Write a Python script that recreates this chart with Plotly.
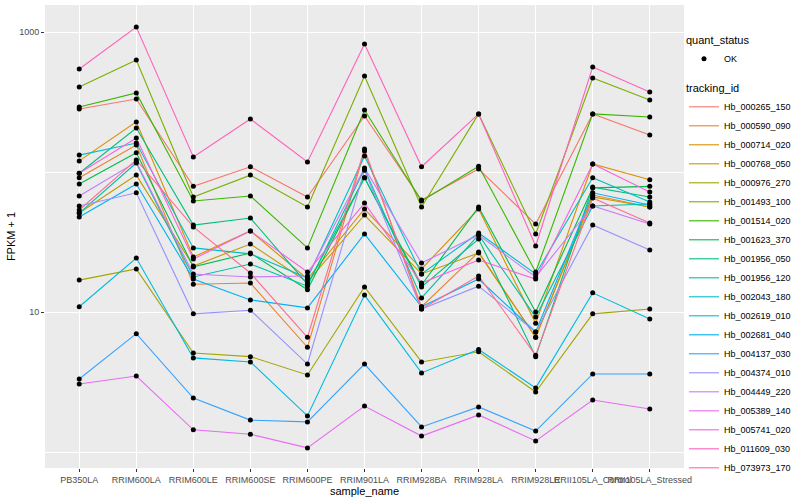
import plotly.graph_objects as go

samples = ["PB350LA", "RRIM600LA", "RRIM600LE", "RRIM600SE", "RRIM600PE", "RRIM901LA",
           "RRIM928BA", "RRIM928LA", "RRIM928LE", "RRII105LA_Control", "RRII105LA_Stressed"]

tracking_ids = ["Hb_000265_150", "Hb_000590_090", "Hb_000714_020", "Hb_000768_050", "Hb_000976_270",
                "Hb_001493_100", "Hb_001514_020", "Hb_001623_370", "Hb_001956_050", "Hb_001956_120",
                "Hb_002043_180", "Hb_002619_010", "Hb_002681_040", "Hb_004137_030", "Hb_004374_010",
                "Hb_004449_220", "Hb_005389_140", "Hb_005741_020", "Hb_011609_030", "Hb_073973_170"]

colors = ["#F8766D", "#EA8331", "#D89000", "#C09B00", "#A3A500", "#7CAE00", "#39B600", "#00BB4E",
          "#00BF7D", "#00C1A3", "#00BFC4", "#00BAE0", "#00B0F6", "#35A2FF", "#9590FF", "#C77CFF",
          "#E76BF3", "#FA62DB", "#FF62BC", "#FF6C91"]

# FPKM + 1 per tracking_id, in the order of `samples` (legend order of tracking_ids)
hb_000265_150 = [282, 332, 79, 109, 66.3, 251, 63.1, 105, 42.5, 260, 184]
hb_000590_090 = [91, 156, 15.8, 16.1, 5.6, 141, 10.9, 26.8, 6.6, 68.5, 56.2]
hb_000714_020 = [120, 228, 24.7, 37.9, 17.2, 54.4, 20.3, 54.4, 8.3, 114, 88]
hb_000768_050 = [50.9, 95, 21.3, 30.6, 16.4, 49.3, 18.7, 26.4, 6.6, 66.3, 56.2]
hb_000976_270 = [16.9, 20.3, 5.1, 4.8, 3.55, 15.1, 4.4, 5.2, 2.68, 9.7, 10.5]
hb_001493_100 = [405, 631, 66.3, 95, 56.2, 485, 56.2, 260, 36.1, 469, 327]
hb_001514_020 = [291, 367, 62.1, 67.4, 28.7, 277, 62.1, 110, 19.3, 260, 247]
hb_001623_370 = [82, 137, 21.0, 26.4, 14.4, 91, 15.6, 56.2, 10, 77, 79]
hb_001956_050 = [98, 206, 41.8, 46.9, 15.8, 91, 15.1, 33.2, 4.8, 78, 66.3]
hb_001956_120 = [50.9, 116, 17.8, 22.0, 15.3, 105, 12.6, 35.5, 9.2, 57.2, 59.1]
hb_002043_180 = [132, 161, 28.7, 26.0, 17.5, 130, 18.7, 36.7, 18.7, 91, 61.1]
hb_002619_010 = [10.9, 24.3, 4.7, 4.4, 1.81, 13.2, 3.67, 5.4, 2.87, 13.7, 8.9]
hb_002681_040 = [47.7, 82, 17.2, 12.2, 10.7, 36.1, 10.9, 17.2, 7.2, 71, 58.1]
hb_004137_030 = [3.32, 7.0, 2.43, 1.69, 1.64, 4.25, 1.51, 2.10, 1.41, 3.61, 3.61]
hb_004374_010 = [57.2, 71, 9.7, 10.3, 4.25, 103, 10.5, 15.3, 7.2, 41.8, 27.7]
hb_004449_220 = [67.4, 118, 18.7, 17.8, 18.1, 107, 22.4, 35.5, 17.8, 57.2, 42.5]
hb_005389_140 = [3.06, 3.49, 1.44, 1.34, 1.07, 2.13, 1.30, 1.84, 1.20, 2.35, 2.03]
hb_005741_020 = [98, 175, 23.9, 37.9, 19.3, 60.0, 16.1, 23.5, 17.2, 114, 72]
hb_011609_030 = [544, 1086, 128, 239, 118, 821, 109, 260, 29.6, 562, 373]
hb_073973_170 = [53.5, 122, 40.5, 19.0, 6.6, 146, 10.5, 18.1, 4.9, 65.2, 43.2]

series = [hb_000265_150, hb_000590_090, hb_000714_020, hb_000768_050, hb_000976_270,
          hb_001493_100, hb_001514_020, hb_001623_370, hb_001956_050, hb_001956_120,
          hb_002043_180, hb_002619_010, hb_002681_040, hb_004137_030, hb_004374_010,
          hb_004449_220, hb_005389_140, hb_005741_020, hb_011609_030, hb_073973_170]

quant_status = ["OK"]

FONT = "Liberation Sans, Arial, Helvetica, sans-serif"

fig = go.Figure()
for name, vals, col in zip(tracking_ids, series, colors):
    fig.add_trace(go.Scatter(
        x=samples, y=vals, mode="lines", name=name,
        line=dict(color=col, width=1.1), legend="legend2"))

all_x, all_y = [], []
for vals in series:
    all_x += samples
    all_y += vals
fig.add_trace(go.Scatter(
    x=all_x, y=all_y, mode="markers", name=quant_status[0],
    marker=dict(color="black", size=5), legend="legend"))

W, H = 800, 500
L, R, T, B = 45, 684, 5, 468
pw, ph = R - L, B - T

fig.update_layout(
    width=W, height=H,
    margin=dict(l=L, r=W - R, t=T, b=H - B, autoexpand=False),
    paper_bgcolor="white", plot_bgcolor="#EBEBEB",
    font=dict(family=FONT, color="#000000"),
    showlegend=True,
    legend=dict(
        title=dict(text="quant_status", font=dict(size=11, color="black")),
        x=(684 - L) / pw, y=(B - 30) / ph, xanchor="left", yanchor="top",
        font=dict(size=9, color="black"), bgcolor="rgba(0,0,0,0)", itemwidth=30),
    legend2=dict(
        title=dict(text="tracking_id", font=dict(size=11, color="black")),
        x=(684 - L) / pw, y=(B - 78) / ph, xanchor="left", yanchor="top",
        font=dict(size=9, color="black"), bgcolor="rgba(0,0,0,0)",
        tracegroupgap=0, itemwidth=30),
    xaxis=dict(
        type="category", categoryorder="array", categoryarray=samples,
        range=[-0.6, len(samples) - 0.4], tickangle=0,
        showgrid=True, gridcolor="white", gridwidth=1.1,
        ticks="outside", ticklen=3, tickcolor="#333333", tickwidth=1,
        tickfont=dict(size=9, color="#4D4D4D", family=FONT),
        title=dict(text="sample_name", font=dict(size=11, color="black"), standoff=0),
        zeroline=False, showline=False, automargin=False),
    yaxis=dict(
        type="log", range=[-0.1143, 3.1929],
        tickvals=[10, 1000], ticktext=["10", "1000"],
        showgrid=True, gridcolor="white", gridwidth=1.1,
        minor=dict(tickvals=[1, 100], showgrid=True, gridcolor="white", gridwidth=0.6, ticks=""),
        ticks="outside", ticklen=3, tickcolor="#333333", tickwidth=1,
        tickfont=dict(size=9, color="#4D4D4D", family=FONT),
        title=dict(text="FPKM + 1", font=dict(size=11, color="black"), standoff=1),
        zeroline=False, showline=False, automargin=False),
)

fig.write_html("out.html", config={"displayModeBar": False},
               post_script="document.body.style.margin='0';document.body.style.padding='0';")
